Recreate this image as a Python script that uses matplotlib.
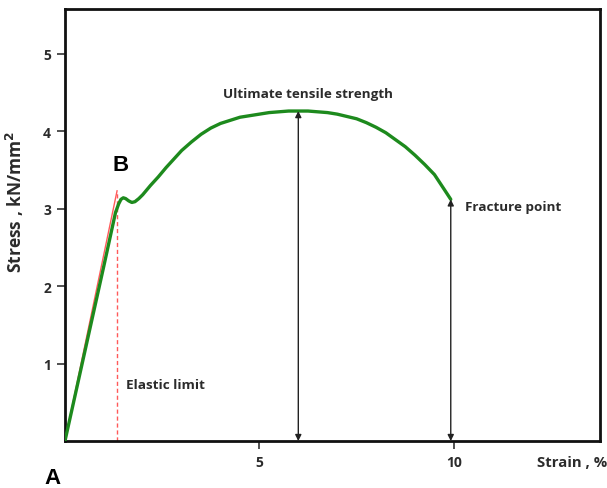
"""Stress-strain curve for a ductile material (tensile test sketch)."""

import matplotlib
matplotlib.use("Agg")
import matplotlib.pyplot as plt

# Curve (strain in %, stress in kN/mm^2)
strain = [0.0, 0.5, 1.0, 1.3, 1.38, 1.44, 1.5, 1.56, 1.64, 1.72, 1.8, 1.9, 2.0,
          2.1, 2.2, 2.4, 2.6, 2.8, 3.0, 3.25, 3.5, 3.75, 4.0, 4.25, 4.5, 4.75,
          5.0, 5.25, 5.5, 5.75, 6.0, 6.25, 6.5, 6.75, 7.0, 7.25, 7.5, 7.75,
          8.0, 8.25, 8.5, 8.75, 9.0, 9.25, 9.5, 9.75, 9.92]
stress = [0.0, 1.13, 2.26, 2.95, 3.06, 3.12, 3.14, 3.13, 3.10, 3.08, 3.09, 3.13,
          3.18, 3.24, 3.30, 3.41, 3.53, 3.64, 3.75, 3.86, 3.96, 4.04, 4.10, 4.14,
          4.18, 4.20, 4.22, 4.24, 4.25, 4.26, 4.26, 4.26, 4.25, 4.24, 4.22, 4.19,
          4.16, 4.11, 4.05, 3.98, 3.89, 3.80, 3.69, 3.57, 3.44, 3.25, 3.12]

# Elastic (proportional) line and limit
elastic_x = [0.0, 1.34]
elastic_y = [0.0, 3.23]
elastic_limit = 1.34

# Vertical markers: ultimate tensile strength and fracture point
marker_x = [6.0, 9.92]
marker_top = [4.26, 3.12]

xticks = [5, 10]
yticks = [1, 2, 3, 4, 5]

GREEN = "#1d8a1d"
RED = "#ff5a5a"
TEXT = "#2b2b2b"

fig = plt.figure(figsize=(6.07, 4.89), dpi=100)
ax = fig.add_axes([0.107, 0.096, 0.881, 0.884])

ax.plot(elastic_x, elastic_y, color=RED, linewidth=1.0, zorder=2)
ax.plot([elastic_limit, elastic_limit], [0, elastic_y[-1]], color=RED,
        linewidth=1.0, linestyle=(0, (3, 2)), zorder=2)
ax.plot(strain, stress, color=GREEN, linewidth=2.4, solid_capstyle="round",
        solid_joinstyle="round", zorder=3)

for x, top in zip(marker_x, marker_top):
    ax.annotate("", xy=(x, top), xytext=(x, 0),
                arrowprops=dict(arrowstyle="<|-|>", color="#222222", lw=1.0,
                                shrinkA=0, shrinkB=0, mutation_scale=9))

# Annotations
ax.text(6.25, 4.48, "Ultimate tensile strength", ha="center", va="center",
        fontsize=9.7, fontweight="bold", color=TEXT, family="Open Sans")
ax.text(10.28, 3.03, "Fracture point", ha="left", va="center",
        fontsize=9.7, fontweight="bold", color=TEXT, family="Open Sans")
ax.text(1.58, 0.73, "Elastic limit", ha="left", va="center",
        fontsize=9.7, fontweight="bold", color=TEXT, family="Open Sans")
ax.text(1.42, 3.57, "B", ha="center", va="center", fontsize=16,
        fontweight="bold", color="black", family="Liberation Sans")
ax.text(-0.33, -0.47, "A", ha="center", va="center", fontsize=16,
        fontweight="bold", color="black", family="Liberation Sans",
        clip_on=False)

ax.set_xlim(0, 13.75)
ax.set_ylim(0, 5.58)
ax.set_xticks(xticks)
ax.set_yticks(yticks)
ax.tick_params(direction="out", length=6, width=1.2, color="#333333",
               labelsize=10, labelcolor=TEXT, pad=4)
for lab in ax.get_xticklabels() + ax.get_yticklabels():
    lab.set_fontweight("bold")
    lab.set_family("Open Sans")

for spine in ax.spines.values():
    spine.set_linewidth(2.0)
    spine.set_color("#111111")

ax.set_xlabel("Strain , %", fontsize=10.7, fontweight="bold", color=TEXT,
              family="Open Sans")
ax.xaxis.set_label_coords(0.948, -0.033)
ax.set_ylabel("Stress , kN/mm$^{\\mathbf{2}}$", fontsize=12.5, fontweight="bold",
              color=TEXT, family="Open Sans")
ax.yaxis.set_label_coords(-0.072, 0.555)

fig.savefig("out.png", dpi=100)
